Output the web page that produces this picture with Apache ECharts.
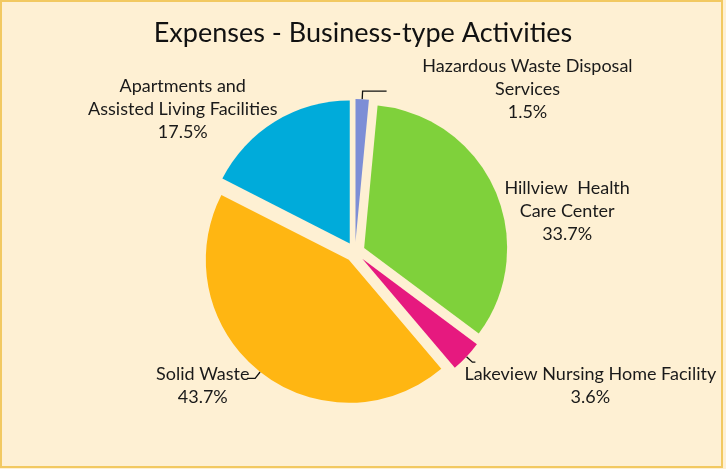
<!DOCTYPE html>
<html>
<head>
<meta charset="utf-8">
<script src="https://cdn.jsdelivr.net/npm/echarts@6/dist/echarts.min.js"></script>
<style>
  html, body { margin: 0; padding: 0; background: #FEF0D3; }
  #chart { width: 726px; height: 469px; }
</style>
</head>
<body>
<div id="chart"></div>
<script>
// Expense shares by business-type activity, clockwise from 12 o'clock
const categories = [
  'Hazardous Waste Disposal\nServices',
  'Hillview  Health\nCare Center',
  'Lakeview Nursing Home Facility',
  'Solid Waste',
  'Apartments and\nAssisted Living Facilities'
];
const shares = [1.5, 33.7, 3.6, 43.7, 17.5];
const sliceColors = ['#7D8ED6', '#7FD13B', '#E6197F', '#FFB612', '#00ABDA'];
const showLeader = [true, false, true, true, false];
const leaderTail = [24, 8, 3, 8, 8];

// where each label block is centred
const labelAnchors = [[527, 99], [558, 215], [583, 379], [209, 378], [188, 118]];

const FONT = 'Lato';

const chart = echarts.init(document.getElementById('chart'), null, { renderer: 'canvas' });

chart.setOption({
  backgroundColor: '#FEF0D3',
  animation: false,
  title: {
    text: 'Expenses - Business-type Activities',
    left: 'center',
    top: 15,
    textStyle: { fontFamily: FONT, fontSize: 27, fontWeight: 'normal', color: '#111' }
  },
  graphic: [{
    type: 'rect',
    shape: { x: 1, y: 1, width: 721, height: 466 },
    style: { fill: 'none', stroke: '#F2C961', lineWidth: 2 },
    silent: true
  }],
  series: [{
    type: 'pie',
    center: [355, 252],
    radius: 143,
    startAngle: 90,
    clockwise: true,
    selectedMode: 'multiple',
    selectedOffset: 10,
    avoidLabelOverlap: false,
    emphasis: { disabled: true },
    label: {
      show: true,
      position: 'outside',
      fontFamily: FONT,
      fontSize: 18,
      lineHeight: 23,
      color: '#1a1a1a',
      formatter: p => (p.name + '\n' + p.value.toFixed(1) + '%')
        .split('\n').map(s => '{t|' + s + '}').join('\n'),
      rich: {
        t: { fontFamily: FONT, fontSize: 18, lineHeight: 23, color: '#1a1a1a', align: 'center' }
      }
    },
    labelLine: {
      show: true,
      length: 8,
      length2: 8,
      lineStyle: { color: '#111', width: 1.3 }
    },
    labelLayout: params => {
      const a = labelAnchors[params.dataIndex];
      const r = params.labelRect;
      return {
        dx: a[0] - (r.x + r.width / 2),
        dy: a[1] - (r.y + r.height / 2)
      };
    },
    data: categories.map((name, i) => ({
      name: name,
      value: shares[i],
      selected: true,
      itemStyle: { color: sliceColors[i] },
      select: { itemStyle: { color: sliceColors[i], borderWidth: 0 } },
      labelLine: { show: showLeader[i], length2: leaderTail[i] }
    }))
  }]
});
</script>
</body>
</html>
